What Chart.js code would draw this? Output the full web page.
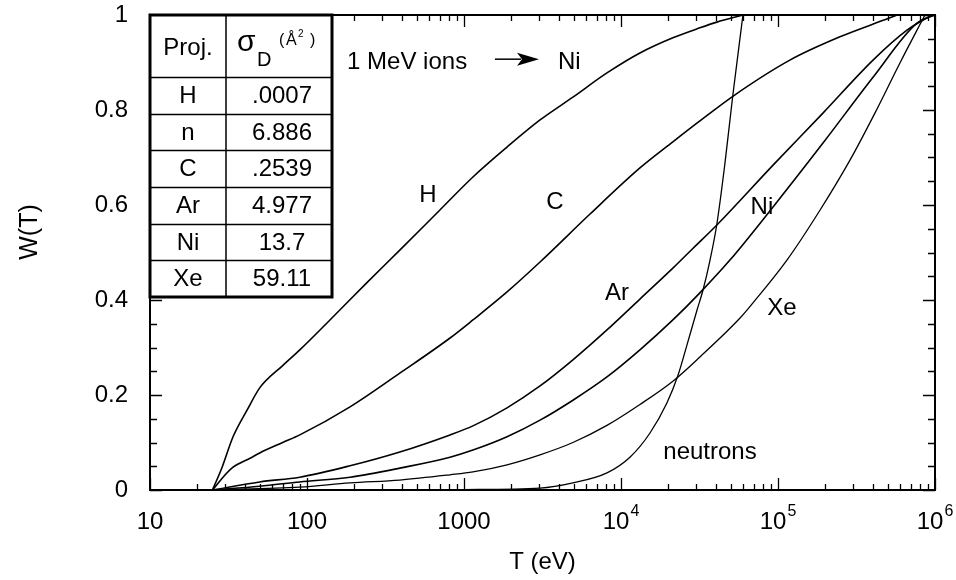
<!DOCTYPE html>
<html>
<head>
<meta charset="utf-8">
<script src="https://cdn.jsdelivr.net/npm/chart.js@4.4.1/dist/chart.umd.min.js"></script>
<style>
  html, body { margin: 0; padding: 0; background: #fff; }
</style>
</head>
<body>
<canvas id="myChart" width="956" height="580"></canvas>
<script>
// W(T), T in eV
var hT = [25, 28.8, 33.8, 41.5, 50, 70, 90, 140, 240, 390, 700, 1140, 1880, 3050, 4940, 8140, 13200, 21400, 31800, 40800, 59800];
var hW = [0, 0.048, 0.112, 0.168, 0.215, 0.262, 0.295, 0.358, 0.436, 0.505, 0.589, 0.659, 0.722, 0.779, 0.827, 0.878, 0.92, 0.952, 0.973, 0.985, 1];

var cT = [25, 29.2, 33.8, 43.4, 50, 70, 90, 188, 390, 815, 1140, 1880, 3050, 6350, 13200, 21400, 31800, 53200, 119000, 248000, 516000, 573000];
var cW = [0, 0.027, 0.048, 0.067, 0.078, 0.1, 0.116, 0.175, 0.246, 0.32, 0.358, 0.417, 0.48, 0.581, 0.678, 0.733, 0.777, 0.832, 0.905, 0.954, 0.994, 1];

var arT = [25, 50, 90, 188, 390, 815, 1140, 1880, 3050, 4940, 8140, 13200, 21400, 28800, 40800, 93000, 194000, 403000, 663000, 957000];
var arW = [0, 0.017, 0.027, 0.051, 0.08, 0.116, 0.135, 0.173, 0.219, 0.274, 0.337, 0.402, 0.467, 0.509, 0.558, 0.684, 0.794, 0.905, 0.968, 1];

var niT = [25, 50, 90, 188, 390, 815, 1140, 1880, 3050, 4940, 8140, 13200, 21400, 31800, 49400, 93000, 194000, 403000, 767000, 1000000];
var niW = [0, 0.008, 0.017, 0.027, 0.046, 0.069, 0.084, 0.112, 0.147, 0.189, 0.238, 0.295, 0.358, 0.415, 0.484, 0.596, 0.731, 0.869, 0.983, 1];

var xeT = [25, 90, 188, 390, 815, 1140, 1880, 3050, 4940, 8140, 13200, 21400, 31800, 57300, 69300, 114000, 185000, 288000, 415000, 598000, 863000];
var xeW = [0, 0.006, 0.015, 0.021, 0.032, 0.038, 0.053, 0.074, 0.1, 0.136, 0.18, 0.229, 0.28, 0.362, 0.394, 0.484, 0.589, 0.695, 0.794, 0.899, 1];

var nT = [25, 300, 1000, 3050, 4940, 8140, 11400, 15300, 19600, 23100, 26300, 30500, 33300, 36900, 40800, 45900, 51600, 59800];
var nW = [0, 0, 0.001, 0.004, 0.015, 0.036, 0.069, 0.12, 0.183, 0.242, 0.305, 0.379, 0.421, 0.484, 0.56, 0.687, 0.832, 1];

// axis ticks
var xMajor = [10, 100, 1000, 10000, 100000, 1000000];
var xTickLabels = ['10', '100', '1000', '10^4', '10^5', '10^6'];

// inset table
var tableProj = ['H', 'n', 'C', 'Ar', 'Ni', 'Xe'];
var tableSigma = ['.0007', '6.886', '.2539', '4.977', '13.7', '59.11'];

// curve labels (T, W of the text centre)
var annoText = ['H', 'C', 'Ni', 'Ar', 'Xe', 'neutrons'];
var annoT = [590, 3800, 79000, 9440, 106000, 36900];
var annoW = [0.621, 0.606, 0.596, 0.415, 0.383, 0.08];

var fam = "'Liberation Sans', Arial, Helvetica, sans-serif";
Chart.defaults.font.family = fam;
Chart.defaults.color = '#000';

function pts(ts, ws) {
  return ts.map(function (t, i) { return {x: t, y: ws[i]}; });
}
function curve(label, ts, ws, width) {
  return {
    label: label,
    data: pts(ts, ws),
    borderColor: '#000',
    borderWidth: width,
    pointRadius: 0,
    fill: false,
    cubicInterpolationMode: 'monotone'
  };
}

var decorations = {
  id: 'decorations',
  afterDraw: function (chart) {
    var ctx = chart.ctx, a = chart.chartArea;
    var xs = chart.scales.x, ys = chart.scales.y;
    ctx.save();
    ctx.strokeStyle = '#000';
    ctx.fillStyle = '#000';

    // inward ticks on all four sides
    ctx.lineWidth = 1.3;
    ctx.beginPath();
    xMajor.forEach(function (d, k) {
      for (var m = 1; m <= 9; m++) {
        if (k === xMajor.length - 1 && m > 1) break;
        var px = Math.round(xs.getPixelForValue(d * m)) + 0.5;
        var len = m === 1 ? 12 : 6;
        ctx.moveTo(px, a.bottom); ctx.lineTo(px, a.bottom - len);
        ctx.moveTo(px, a.top); ctx.lineTo(px, a.top + len);
      }
    });
    for (var i = 0; i <= 20; i++) {
      var py = Math.round(ys.getPixelForValue(i * 0.05)) + 0.5;
      var len = i % 4 === 0 ? 12 : 7;
      ctx.moveTo(a.left, py); ctx.lineTo(a.left + len, py);
      ctx.moveTo(a.right, py); ctx.lineTo(a.right - len, py);
    }
    ctx.stroke();
    ctx.lineWidth = 2;
    ctx.strokeRect(a.left, a.top, a.right - a.left, a.bottom - a.top);

    // x tick labels with superscript exponents
    ctx.textAlign = 'left';
    ctx.textBaseline = 'alphabetic';
    xMajor.forEach(function (v, k) {
      var lab = xTickLabels[k].split('^');
      var px = xs.getPixelForValue(v);
      ctx.font = '24px ' + fam;
      var w0 = ctx.measureText(lab[0]).width, w1 = 0;
      if (lab[1]) { ctx.font = '16px ' + fam; w1 = ctx.measureText(lab[1]).width + 1; }
      var x0 = px - (w0 + w1) / 2;
      ctx.font = '24px ' + fam;
      ctx.fillText(lab[0], x0, a.bottom + 39);
      if (lab[1]) { ctx.font = '16px ' + fam; ctx.fillText(lab[1], x0 + w0 + 1, a.bottom + 26); }
    });

    // y title
    ctx.save();
    ctx.translate(30, 232);
    ctx.rotate(-Math.PI / 2);
    ctx.textAlign = 'center';
    ctx.textBaseline = 'middle';
    ctx.font = '25px ' + fam;
    ctx.fillText('W(T)', 0, 0);
    ctx.restore();

    // curve labels
    ctx.font = '24px ' + fam;
    ctx.textAlign = 'center';
    ctx.textBaseline = 'middle';
    annoText.forEach(function (t, k) {
      ctx.fillText(t, xs.getPixelForValue(annoT[k]), ys.getPixelForValue(annoW[k]));
    });

    // "1 MeV ions -> Ni"
    ctx.textAlign = 'left';
    ctx.fillText('1 MeV ions', xs.getPixelForValue(180), ys.getPixelForValue(0.9));
    ctx.fillText('Ni', xs.getPixelForValue(3970), ys.getPixelForValue(0.9));
    var ax0 = xs.getPixelForValue(1574), ax1 = xs.getPixelForValue(3005), ay = ys.getPixelForValue(0.907);
    ctx.lineWidth = 1.5;
    ctx.beginPath();
    ctx.moveTo(ax0, ay); ctx.lineTo(ax1 - 18, ay);
    ctx.stroke();
    ctx.beginPath();
    ctx.moveTo(ax1, ay);
    ctx.lineTo(ax1 - 22, ay - 6.5);
    ctx.lineTo(ax1 - 17, ay);
    ctx.lineTo(ax1 - 22, ay + 6.5);
    ctx.closePath();
    ctx.fill();

    // inset table
    var tl = a.left, tr = a.left + 182, tc = a.left + 76;
    var tt = a.top, th = a.top + 62, tb = a.top + 282;
    var rh = (tb - th) / tableProj.length;
    ctx.fillStyle = '#fff';
    ctx.fillRect(tl, tt, tr - tl, tb - tt);
    ctx.fillStyle = '#000';
    ctx.lineWidth = 1.5;
    ctx.beginPath();
    ctx.moveTo(tc, tt); ctx.lineTo(tc, tb);
    for (var r = 0; r < tableProj.length; r++) {
      var ry = Math.round(th + r * rh) + 0.5;
      ctx.moveTo(tl, ry); ctx.lineTo(tr, ry);
    }
    ctx.stroke();
    ctx.lineWidth = 3;
    ctx.strokeRect(tl, tt, tr - tl, tb - tt);

    ctx.font = '24px ' + fam;
    ctx.textAlign = 'center';
    ctx.textBaseline = 'middle';
    ctx.fillText('Proj.', (tl + tc) / 2, tt + 33);
    for (var r2 = 0; r2 < tableProj.length; r2++) {
      var cy = th + (r2 + 0.5) * rh + 1;
      ctx.fillText(tableProj[r2], (tl + tc) / 2, cy);
      ctx.fillText(tableSigma[r2], (tc + tr) / 2 + 3, cy);
    }
    // header: sigma_D (Å²)
    ctx.textAlign = 'left';
    ctx.textBaseline = 'alphabetic';
    ctx.font = '30px ' + fam;
    ctx.fillText('σ', tl + 87, tt + 36);
    ctx.font = '20px ' + fam;
    ctx.fillText('D', tl + 107, tt + 51);
    ctx.font = '16px ' + fam;
    ctx.fillText('(', tl + 129, tt + 30);
    ctx.fillText('Å', tl + 136, tt + 30);
    ctx.fillText(')', tl + 160, tt + 30);
    ctx.font = '10px ' + fam;
    ctx.fillText('2', tl + 148, tt + 22);

    ctx.restore();
  }
};

var ctx = document.getElementById('myChart').getContext('2d');
var myChart = new Chart(ctx, {
  type: 'line',
  data: {
    datasets: [
      curve('H', hT, hW, 1.6),
      curve('C', cT, cW, 1.6),
      curve('Ar', arT, arW, 1.6),
      curve('Ni', niT, niW, 1.6),
      curve('Xe', xeT, xeW, 1.3),
      curve('neutrons', nT, nW, 1.3)
    ]
  },
  options: {
    responsive: false,
    animation: false,
    devicePixelRatio: 1,
    events: [],
    layout: { padding: { left: 0, right: 21, top: 15, bottom: 0 } },
    plugins: { legend: { display: false }, tooltip: { enabled: false } },
    scales: {
      x: {
        type: 'logarithmic',
        min: 10,
        max: 1000000,
        grid: { display: false, drawTicks: false },
        border: { display: false },
        ticks: { display: false },
        title: { display: true, text: 'T (eV)', font: { size: 24 }, padding: { top: 0, bottom: 3 } },
        afterFit: function (scale) { scale.height = 90; }
      },
      y: {
        min: 0,
        max: 1,
        grid: { display: false, drawTicks: false },
        border: { display: false },
        ticks: {
          stepSize: 0.2,
          font: { size: 24 },
          padding: 22,
          callback: function (v) { return String(Math.round(v * 10) / 10); }
        },
        afterFit: function (scale) {
          scale.width = 150;
          scale.paddingTop = 0;
          scale.paddingBottom = 0;
        }
      }
    }
  },
  plugins: [decorations]
});
</script>
</body>
</html>
